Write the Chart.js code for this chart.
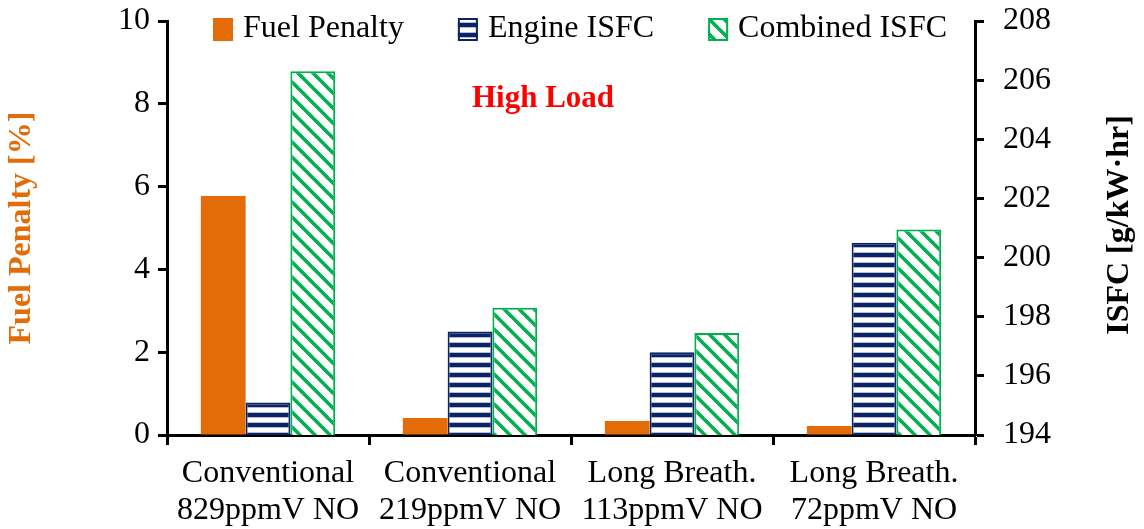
<!DOCTYPE html>
<html>
<head>
<meta charset="utf-8">
<script src="https://cdn.jsdelivr.net/npm/chart.js@4.4.1/dist/chart.umd.min.js"></script>
<style>
  html, body { margin: 0; padding: 0; background: #fff; }
  #wrap { width: 1144px; height: 529px; position: relative; }
</style>
</head>
<body>
<div id="wrap"><canvas id="c"></canvas></div>
<script>
var labels = [
  ["Conventional", "829ppmV NO"],
  ["Conventional", "219ppmV NO"],
  ["Long Breath.", "113ppmV NO"],
  ["Long Breath.", "72ppmV NO"]
];
var fuelPenalty = [5.77, 0.41, 0.34, 0.22];
var engineIsfc = [195.1, 197.5, 196.8, 200.5];
var combinedIsfc = [206.3, 198.3, 197.45, 200.95];

var ORANGE = "#e36c09";
var NAVY = "#0b2466";
var GREEN = "#00b050";
var SERIF = "'Liberation Serif', 'Times New Roman', serif";

Chart.defaults.font.family = SERIF;
Chart.defaults.color = "#000";

// horizontal stripes
function stripes() {
  var t = document.createElement("canvas");
  t.width = 10; t.height = 10;
  var g = t.getContext("2d");
  g.fillStyle = "#fff"; g.fillRect(0, 0, 10, 10);
  g.fillStyle = "#b4bcd8"; g.fillRect(0, 2, 10, 7);
  g.fillStyle = "#fff"; g.fillRect(0, 8, 10, 2);
  g.fillStyle = NAVY; g.fillRect(0, 3, 10, 4);
  return g.createPattern(t, "repeat");
}

// diagonal hatch "\"
function hatch() {
  var s = 15;
  var t = document.createElement("canvas");
  t.width = s; t.height = s;
  var g = t.getContext("2d");
  g.fillStyle = "#fff"; g.fillRect(0, 0, s, s);
  g.strokeStyle = GREEN; g.lineWidth = 3.6;
  [-s, 0, s].forEach(function (o) {
    g.beginPath(); g.moveTo(o - 2, -2); g.lineTo(o + s + 2, s + 2); g.stroke();
  });
  return g.createPattern(t, "repeat");
}

var blueFill = stripes();
var greenFill = hatch();

var tickFont = { family: SERIF, size: 32, lineHeight: 1.12 };

function fixY(w) {
  return function (s) { s.width = w; s.paddingTop = 0; s.paddingBottom = 0; };
}

// legend + "High Load" + right title drawn by hand
var extras = {
  id: "extras",
  afterDraw: function (chart) {
    var ctx = chart.ctx, ca = chart.chartArea;
    ctx.save();
    ctx.font = "32px " + SERIF;
    ctx.textBaseline = "middle";
    var x = ca.left + 46, y = 29;
    chart.data.datasets.forEach(function (ds) {
      ctx.fillStyle = ds.backgroundColor;
      ctx.fillRect(x, y - 11, 20, 23);
      if (ds.borderWidth) {
        ctx.strokeStyle = ds.borderColor; ctx.lineWidth = 2;
        ctx.strokeRect(x + 1, y - 10, 18, 21);
      }
      ctx.fillStyle = "#000";
      ctx.textAlign = "left";
      ctx.fillText(ds.label, x + 30, y);
      x += 30 + ctx.measureText(ds.label).width + 54;
    });

    ctx.font = "bold 31px " + SERIF;
    ctx.fillStyle = "#ff0000";
    ctx.textAlign = "center";
    ctx.fillText("High Load", 543, 99);

    ctx.font = "bold 32px " + SERIF;
    ctx.translate(1120, 225);
    ctx.rotate(-Math.PI / 2);
    ctx.fillStyle = "#000";
    ctx.fillText("ISFC [g/kW\u00b7hr]", 0, 0);
    ctx.restore();
  }
};

new Chart(document.getElementById("c"), {
  type: "bar",
  data: {
    labels: labels,
    datasets: [
      { label: "Fuel Penalty", data: fuelPenalty, yAxisID: "y",
        backgroundColor: ORANGE, borderWidth: 0 },
      { label: "Engine ISFC", data: engineIsfc, yAxisID: "y2",
        backgroundColor: blueFill, borderColor: NAVY, borderWidth: 2, borderSkipped: false },
      { label: "Combined ISFC", data: combinedIsfc, yAxisID: "y2",
        backgroundColor: greenFill, borderColor: GREEN, borderWidth: 2, borderSkipped: false }
    ]
  },
  options: {
    responsive: true,
    maintainAspectRatio: false,
    animation: false,
    categoryPercentage: 0.665,
    barPercentage: 1,
    layout: { padding: { top: 21, left: 0, right: 0, bottom: 0 } },
    plugins: {
      legend: { display: false },
      tooltip: { enabled: false }
    },
    scales: {
      x: {
        grid: { drawOnChartArea: false, drawTicks: true, tickLength: 10, tickWidth: 3, color: "#000", offset: true },
        border: { display: true, color: "#000", width: 3 },
        ticks: { font: { family: SERIF, size: 32, lineHeight: 1.16 }, padding: 10, maxRotation: 0 },
        afterFit: function (s) { s.height = 94; s.paddingLeft = 0; s.paddingRight = 0; }
      },
      y: {
        position: "left",
        min: 0, max: 10,
        grid: { drawOnChartArea: false, tickLength: 9, tickWidth: 3, color: "#000" },
        border: { display: true, color: "#000", width: 3 },
        ticks: { stepSize: 2, font: tickFont, padding: 8 },
        title: { display: true, text: "Fuel Penalty [%]", color: ORANGE,
                 font: { family: SERIF, size: 32, weight: "bold" }, padding: { top: 3, bottom: 0 } },
        afterFit: fixY(167)
      },
      y2: {
        position: "right",
        min: 194, max: 208,
        grid: { drawOnChartArea: false, tickLength: 9, tickWidth: 3, color: "#000" },
        border: { display: true, color: "#000", width: 3 },
        ticks: { stepSize: 2, font: tickFont, padding: 19 },
        afterFit: fixY(169)
      }
    }
  },
  plugins: [extras]
});
</script>
</body>
</html>
